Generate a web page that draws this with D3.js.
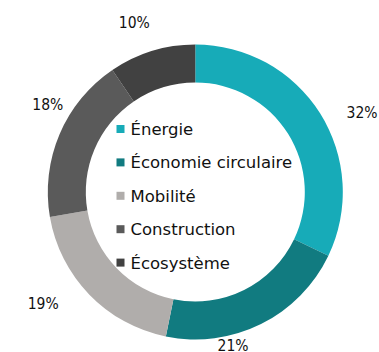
<!DOCTYPE html>
<html>
<head>
<meta charset="utf-8">
<script src="https://cdn.jsdelivr.net/npm/d3@7"></script>
<style>
  body { margin: 0; background: #fff; }
  text { font-family: "DejaVu Sans Condensed", "DejaVu Sans", sans-serif; fill: #111; }
  .item text { font-family: "DejaVu Sans", sans-serif; }
</style>
</head>
<body>
<script>
// Secteurs et parts (en %)
var categories = ["Énergie", "Économie circulaire", "Mobilité", "Construction", "Écosystème"];
var values = [32.1, 21.1, 19.1, 18.2, 9.5];
var colors = ["#17abb8", "#117b80", "#b0adab", "#5a5a5a", "#414141"];

var width = 379, height = 352;
var cx = 195.3, cy = 192;
var outerR = 147.5, innerR = 109.5;

var svg = d3.select("body")
    .append("svg")
    .attr("width", width)
    .attr("height", height);

var g = svg.append("g")
    .attr("transform", "translate(" + cx + "," + cy + ")");

var data = categories.map(function(c, i) { return {name: c, value: values[i]}; });

var color = d3.scaleOrdinal()
    .domain(categories)
    .range(colors);

// pie starts at 12 o'clock, clockwise, no sorting
var pie = d3.pie()
    .sort(null)
    .value(function(d) { return d.value; });

var arc = d3.arc()
    .innerRadius(innerR)
    .outerRadius(outerR);

var labelArc = d3.arc()
    .innerRadius(170)
    .outerRadius(170);

var arcs = pie(data);

g.selectAll(".slice")
    .data(arcs)
  .enter().append("path")
    .attr("class", "slice")
    .attr("d", arc)
    .attr("fill", function(d) { return color(d.data.name); });

// hand placed labels in the original, so nudge from the centroid
var nudge = [[23, 11], [-38, 1], [-30, -7], [9, -21], [-11, -7]];

g.selectAll(".pct")
    .data(arcs)
  .enter().append("text")
    .attr("class", "pct")
    .attr("transform", function(d, i) {
      var c = labelArc.centroid(d);
      return "translate(" + (c[0] + nudge[i][0]) + "," + (c[1] + nudge[i][1]) + ")";
    })
    .attr("text-anchor", "middle")
    .attr("dy", "0.35em")
    .style("font-size", "15.5px")
    .text(function(d) { return Math.round(d.data.value) + "%"; });

// Legend in the hole
var legend = svg.append("g")
    .attr("transform", "translate(116.5,125)");

var rowH = 33.4;

var items = legend.selectAll(".item")
    .data(categories)
  .enter().append("g")
    .attr("class", "item")
    .attr("transform", function(d, i) { return "translate(0," + (i * rowH) + ")"; });

items.append("rect")
    .attr("width", 8)
    .attr("height", 8)
    .attr("fill", function(d) { return color(d); });

items.append("text")
    .attr("x", 14)
    .attr("y", 10)
    .style("font-size", "16.5px")
    .text(function(d) { return d; });
</script>
</body>
</html>
